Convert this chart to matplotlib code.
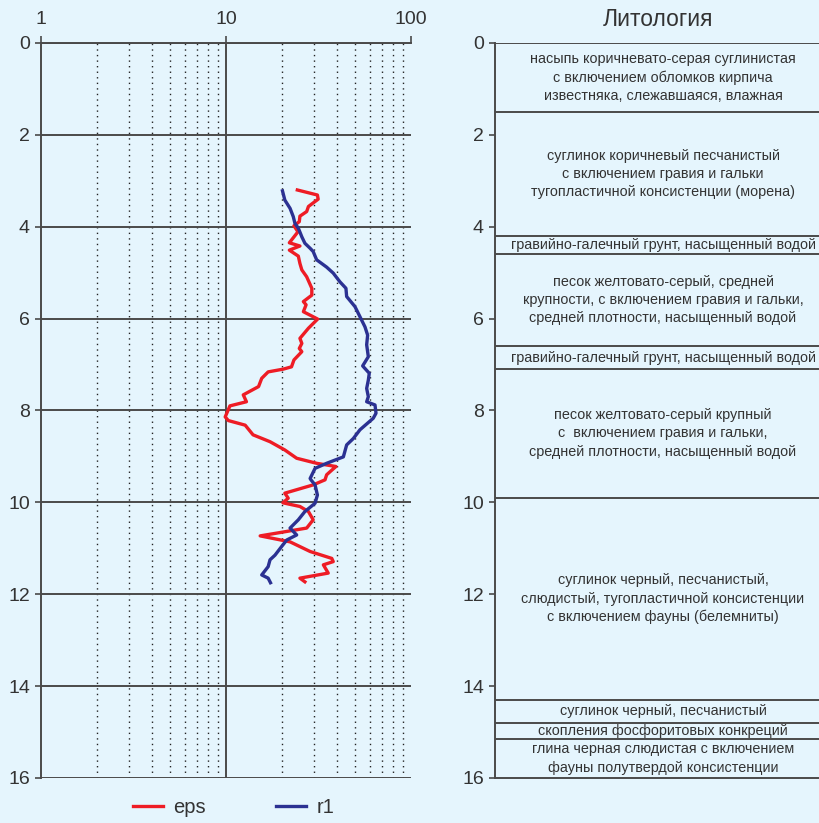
import matplotlib
matplotlib.use("Agg")
import matplotlib.pyplot as plt
from matplotlib.ticker import FixedLocator, FixedFormatter, NullFormatter

plt.rcParams['font.family'] = ['Liberation Sans', 'DejaVu Sans']

BG = '#e5f5fd'
TXT = '#333333'
LINE = '#4a4a4a'

# eps log: value / depth (m)
eps_val = [24.3, 31.2, 31.5, 27.9, 27.3, 25.1, 24.9, 23.3, 24.5, 22.0, 25.1, 22.0,
           24.6, 25.1, 25.7, 27.3, 29.1, 29.1, 26.2, 27.1, 26.2, 31.3, 27.9, 25.1,
           25.7, 24.9, 25.7, 23.3, 22.6, 20.4, 16.9, 15.6, 15.0, 12.4, 12.9, 10.5,
           10.1, 9.9, 10.3, 12.7, 14.0, 17.3, 20.8, 24.1, 30.9, 39.3, 37.3, 35.0,
           34.3, 29.6, 20.8, 21.7, 20.3, 25.1, 27.9, 29.6, 27.3, 15.3, 22.2, 28.5,
           37.3, 38.0, 33.6, 35.7, 25.1, 26.7]
eps_depth = [3.20, 3.31, 3.40, 3.56, 3.67, 3.77, 3.89, 3.98, 4.11, 4.35, 4.42, 4.51,
             4.64, 4.80, 4.94, 5.09, 5.34, 5.49, 5.63, 5.70, 5.85, 6.01, 6.21, 6.43,
             6.54, 6.65, 6.72, 6.90, 7.05, 7.10, 7.16, 7.30, 7.48, 7.66, 7.81, 7.90,
             8.06, 8.14, 8.22, 8.32, 8.53, 8.68, 8.86, 9.04, 9.15, 9.22, 9.30, 9.40,
             9.51, 9.62, 9.80, 9.91, 10.01, 10.09, 10.20, 10.38, 10.56, 10.73, 10.86, 11.07,
             11.22, 11.29, 11.36, 11.54, 11.65, 11.73]

# r1 log
r1_val = [20.2, 20.8, 22.2, 23.1, 23.6, 24.6, 25.7, 26.7, 28.5, 29.6, 30.9, 35.0,
          38.0, 41.3, 44.5, 44.9, 49.8, 53.0, 56.4, 58.3, 57.6, 58.8, 54.8, 59.5,
          58.8, 57.6, 58.8, 57.6, 63.9, 64.7, 62.5, 53.0, 48.8, 44.9, 43.1, 35.0,
          30.3, 28.5, 28.8, 30.3, 31.2, 30.3, 26.7, 24.6, 22.2, 24.1, 21.3, 20.0,
          18.4, 17.3, 16.9, 15.6, 16.9, 17.4]
r1_depth = [3.22, 3.42, 3.60, 3.78, 3.93, 4.03, 4.22, 4.36, 4.47, 4.54, 4.72, 4.88,
            5.01, 5.20, 5.34, 5.52, 5.74, 5.96, 6.18, 6.36, 6.57, 6.83, 7.03, 7.19,
            7.34, 7.52, 7.70, 7.81, 7.88, 8.06, 8.17, 8.42, 8.61, 8.75, 9.01, 9.15,
            9.26, 9.48, 9.51, 9.62, 9.84, 10.02, 10.20, 10.38, 10.56, 10.71, 10.82, 10.96,
            11.15, 11.25, 11.40, 11.58, 11.65, 11.75]

depth_ticks = [0, 2, 4, 6, 8, 10, 12, 14, 16]
x_major = [1, 10, 100]
x_minor = [2, 3, 4, 5, 6, 7, 8, 9, 20, 30, 40, 50, 60, 70, 80, 90]

# lithology column: layer tops / bottoms and descriptions
layer_top = [0, 1.5, 4.2, 4.6, 6.6, 7.1, 9.9, 14.3, 14.8, 15.15]
layer_bot = [1.5, 4.2, 4.6, 6.6, 7.1, 9.9, 14.3, 14.8, 15.15, 16]
layer_text = [
    'насыпь коричневато-серая суглинистая\nс включением обломков кирпича\nизвестняка, слежавшаяся, влажная',
    'суглинок коричневый песчанистый\nс включением гравия и гальки\nтугопластичной консистенции (морена)',
    'гравийно-галечный грунт, насыщенный водой',
    'песок желтовато-серый, средней\nкрупности, с включением гравия и гальки,\nсредней плотности, насыщенный водой',
    'гравийно-галечный грунт, насыщенный водой',
    'песок желтовато-серый крупный\nс  включением гравия и гальки,\nсредней плотности, насыщенный водой',
    'суглинок черный, песчанистый,\nслюдистый, тугопластичной консистенции\nс включением фауны (белемниты)',
    'суглинок черный, песчанистый',
    'скопления фосфоритовых конкреций',
    'глина черная слюдистая с включением\nфауны полутвердой консистенции',
]

fig = plt.figure(figsize=(8.2, 8.23), dpi=100, facecolor=BG)

# ---- log curves ----
ax = fig.add_axes([0.05, 0.0547, 0.4512, 0.8931], facecolor=BG)
ax.set_xscale('log')
ax.set_xlim(1, 100)
ax.set_ylim(16, 0)
ax.xaxis.tick_top()
ax.xaxis.set_major_locator(FixedLocator(x_major))
ax.xaxis.set_major_formatter(FixedFormatter([str(v) for v in x_major]))
ax.xaxis.set_minor_locator(FixedLocator(x_minor))
ax.xaxis.set_minor_formatter(NullFormatter())
ax.set_yticks(depth_ticks)
ax.tick_params(axis='x', which='major', length=5, width=1.2, color=LINE,
               labelsize=14, labelcolor=TXT, pad=6)
ax.tick_params(axis='x', which='minor', length=0)
ax.tick_params(axis='y', length=4, width=1.2, color=LINE, labelsize=14,
               labelcolor=TXT, pad=4)
for s in ['right', 'bottom']:
    ax.spines[s].set_visible(False)
for s in ['left', 'top']:
    ax.spines[s].set_color(LINE)
    ax.spines[s].set_linewidth(1.4)

ax.grid(axis='x', which='minor', color='#222222', ls=(0, (1, 3)), lw=1.0)
ax.grid(axis='y', which='major', color=LINE, lw=1.4)
ax.axvline(x_major[1], color=LINE, lw=1.4)

ax.plot(eps_val, eps_depth, color='#ee1c25', lw=2.4, label='eps')
ax.plot(r1_val, r1_depth, color='#2b3192', lw=2.4, label='r1')

ax.legend(loc='upper center', bbox_to_anchor=(0.52, -0.002), ncol=2, frameon=False,
          fontsize=14.5, handlelength=1.5, handletextpad=0.5, columnspacing=3.5,
          labelcolor=TXT)

# ---- lithology column ----
lx = fig.add_axes([0.6037, 0.0547, 0.3963, 0.8931], facecolor=BG)
lx.set_xlim(0, 1)
lx.set_ylim(16, 0)
lx.set_xticks([])
lx.set_yticks(depth_ticks)
lx.tick_params(axis='y', length=4, width=1.2, color=LINE, labelsize=14,
               labelcolor=TXT, pad=4)
for s in ['right', 'bottom', 'top']:
    lx.spines[s].set_visible(False)
lx.spines['left'].set_color(LINE)
lx.spines['left'].set_linewidth(1.4)

for top, bot, txt in zip(layer_top, layer_bot, layer_text):
    lx.axhline(top, color=LINE, lw=1.4)
    lx.text(0.517, (top + bot) / 2, txt, ha='center', va='center', fontsize=10.4,
            color=TXT, linespacing=1.38)
lx.axhline(layer_bot[-1], color=LINE, lw=1.4, clip_on=False)
lx.set_title('Литология', fontsize=16.5, color=TXT, pad=12)

fig.savefig('out.png', dpi=100, facecolor=BG)
